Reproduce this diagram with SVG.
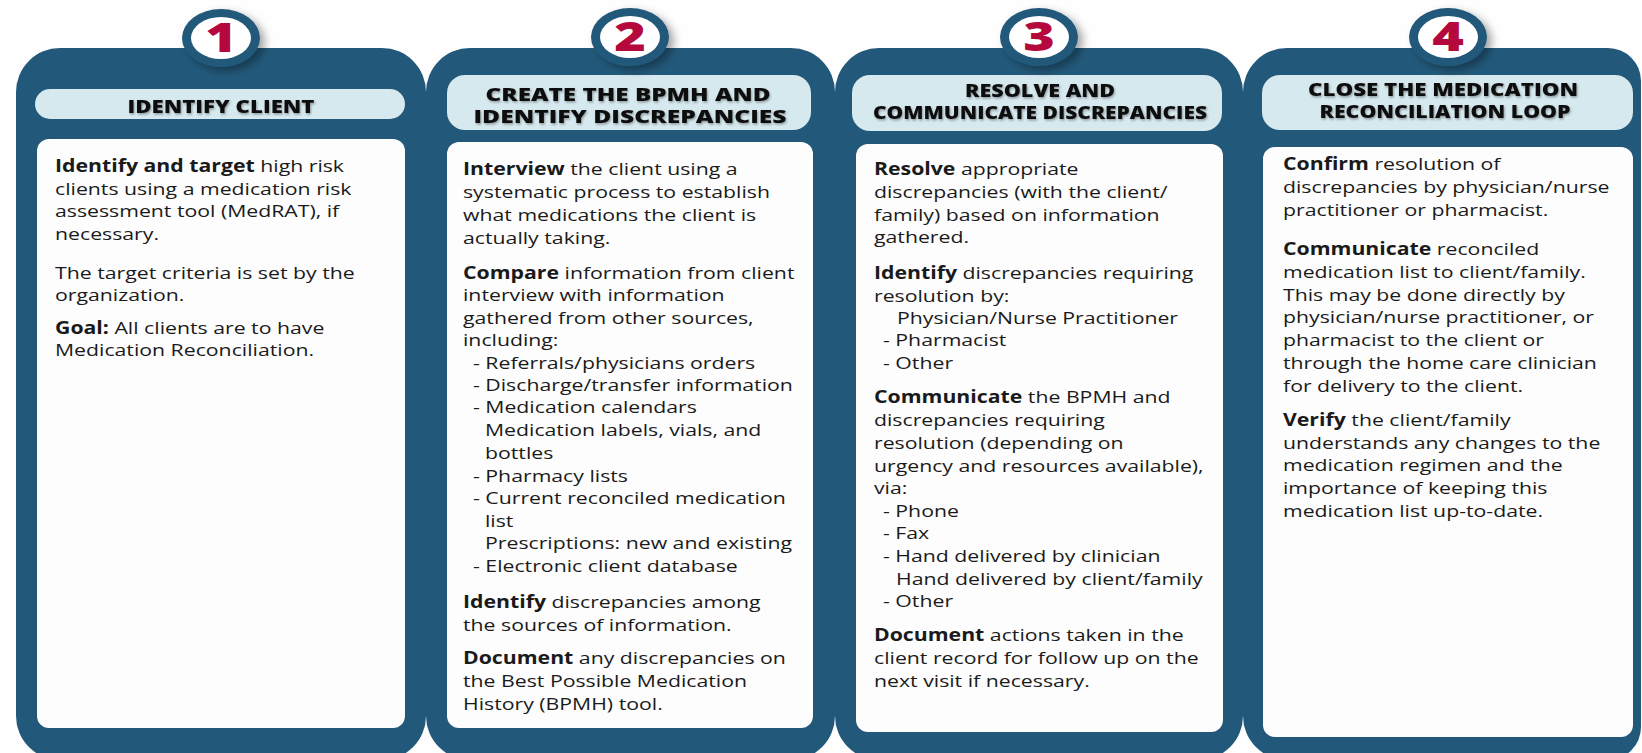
<svg xmlns="http://www.w3.org/2000/svg" width="1642" height="753" viewBox="0 0 1642 753">
<defs>
<style>
.panel{fill:#22597a}
.pill{fill:#d6e9ef}
.box{fill:#fdfdfd}
.ring{fill:#22597a}
.inner{fill:#ffffff}
.num{font-family:"Open Sans","Liberation Sans",sans-serif;font-weight:800;font-size:40px;fill:#b5083d;text-anchor:middle}
.hdr{font-family:"Open Sans","Liberation Sans",sans-serif;font-weight:800;font-size:17px;fill:#111;text-anchor:middle}
.body{font-family:"Open Sans","Liberation Sans",sans-serif;font-size:17px;fill:#1a1a1a}
.b{font-weight:700}
</style>
<filter id="sh" x="-30%" y="-30%" width="170%" height="170%">
<feDropShadow dx="5" dy="4" stdDeviation="4" flood-color="#000" flood-opacity="0.35"/>
</filter>
<filter id="tsh" x="-5%" y="-30%" width="110%" height="170%">
<feDropShadow dx="1" dy="1.5" stdDeviation="1" flood-color="#000" flood-opacity="0.35"/>
</filter>
</defs>
<rect x="0" y="0" width="1642" height="753" fill="#fefefe"/>
<g id="connectors"/>

<g id="step1">
<rect class="panel" x="16" y="48" width="410" height="712" rx="44"/>
<rect class="pill" x="35" y="89" width="370" height="30" rx="15"/>
<rect class="box" x="37" y="139" width="368" height="589" rx="12"/>
<g filter="url(#sh)"><ellipse class="ring" cx="221" cy="38" rx="39" ry="29"/></g>
<ellipse class="inner" cx="221" cy="38" rx="30" ry="21"/>
<text class="num" transform="translate(221 52) scale(1.35 1)" x="0" y="0">1</text>
<text class="hdr" filter="url(#tsh)" x="221" y="113" textLength="187" lengthAdjust="spacingAndGlyphs">IDENTIFY CLIENT</text>
<g transform="translate(55 0) scale(1.25 1)">
<text class="body">
<tspan x="0" y="172"><tspan class="b">Identify and target</tspan> high risk</tspan>
<tspan x="0" y="195">clients using a medication risk</tspan>
<tspan x="0" y="217">assessment  tool (MedRAT), if</tspan>
<tspan x="0" y="240">necessary.</tspan>
<tspan x="0" y="279">The target criteria is set by the</tspan>
<tspan x="0" y="301">organization.</tspan>
<tspan x="0" y="334"><tspan class="b">Goal:</tspan>  All clients are to have</tspan>
<tspan x="0" y="356">Medication Reconciliation.</tspan>
</text>
</g>
</g>

<g id="step2">
<rect class="panel" x="426" y="48" width="409" height="712" rx="44"/>
<rect class="pill" x="447" y="75" width="364" height="55" rx="18"/>
<rect class="box" x="447" y="142" width="366" height="586" rx="12"/>
<g filter="url(#sh)"><ellipse class="ring" cx="630" cy="37" rx="39" ry="29"/></g>
<ellipse class="inner" cx="630" cy="37" rx="30" ry="21"/>
<text class="num" transform="translate(630 51) scale(1.35 1)" x="0" y="0">2</text>
<text class="hdr" filter="url(#tsh)" x="628" y="101" textLength="285" lengthAdjust="spacingAndGlyphs">CREATE THE BPMH AND</text>
<text class="hdr" filter="url(#tsh)" x="630" y="123" textLength="313" lengthAdjust="spacingAndGlyphs">IDENTIFY DISCREPANCIES</text>
<g transform="translate(463 0) scale(1.25 1)">
<text class="body">
<tspan x="0" y="175"><tspan class="b">Interview</tspan> the client using a</tspan>
<tspan x="0" y="198">systematic process to establish</tspan>
<tspan x="0" y="221">what medications the client is</tspan>
<tspan x="0" y="244">actually taking.</tspan>
<tspan x="0" y="279"><tspan class="b">Compare</tspan> information from client</tspan>
<tspan x="0" y="301">interview with information</tspan>
<tspan x="0" y="324">gathered from other sources,</tspan>
<tspan x="0" y="346">including:</tspan>
<tspan x="8" y="369">- Referrals/physicians orders</tspan>
<tspan x="8" y="391">- Discharge/transfer information</tspan>
<tspan x="8" y="413">- Medication calendars</tspan>
<tspan x="17.6" y="436">Medication labels, vials, and</tspan>
<tspan x="17.6" y="459">bottles</tspan>
<tspan x="8" y="482">- Pharmacy lists</tspan>
<tspan x="8" y="504">- Current reconciled medication</tspan>
<tspan x="17.6" y="527">list</tspan>
<tspan x="17.6" y="549">Prescriptions: new and existing</tspan>
<tspan x="8" y="572">- Electronic client database</tspan>
<tspan x="0" y="608"><tspan class="b">Identify</tspan> discrepancies among</tspan>
<tspan x="0" y="631">the sources of information.</tspan>
<tspan x="0" y="664"><tspan class="b">Document</tspan> any discrepancies on</tspan>
<tspan x="0" y="687">the  Best Possible Medication</tspan>
<tspan x="0" y="710">History (BPMH) tool.</tspan>
</text>
</g>
</g>

<g id="step3">
<rect class="panel" x="835" y="48" width="408" height="712" rx="44"/>
<rect class="pill" x="852" y="75" width="370" height="56" rx="18"/>
<rect class="box" x="856" y="144" width="367" height="588" rx="12"/>
<g filter="url(#sh)"><ellipse class="ring" cx="1039" cy="37" rx="39" ry="29"/></g>
<ellipse class="inner" cx="1039" cy="37" rx="30" ry="21"/>
<text class="num" transform="translate(1039 51) scale(1.35 1)" x="0" y="0">3</text>
<text class="hdr" filter="url(#tsh)" x="1040" y="97" textLength="150" lengthAdjust="spacingAndGlyphs">RESOLVE AND</text>
<text class="hdr" filter="url(#tsh)" x="1040" y="119" textLength="334" lengthAdjust="spacingAndGlyphs">COMMUNICATE DISCREPANCIES</text>
<g transform="translate(874 0) scale(1.25 1)">
<text class="body">
<tspan x="0" y="175"><tspan class="b">Resolve</tspan> appropriate</tspan>
<tspan x="0" y="198">discrepancies (with the client/</tspan>
<tspan x="0" y="221">family) based on information</tspan>
<tspan x="0" y="243">gathered.</tspan>
<tspan x="0" y="279"><tspan class="b">Identify</tspan> discrepancies requiring</tspan>
<tspan x="0" y="302">resolution by:</tspan>
<tspan x="18.4" y="324">Physician/Nurse Practitioner</tspan>
<tspan x="7.2" y="346">- Pharmacist</tspan>
<tspan x="7.2" y="369">- Other</tspan>
<tspan x="0" y="403"><tspan class="b">Communicate</tspan> the BPMH and</tspan>
<tspan x="0" y="426">discrepancies requiring</tspan>
<tspan x="0" y="449">resolution (depending on</tspan>
<tspan x="0" y="472">urgency and resources available),</tspan>
<tspan x="0" y="494">via:</tspan>
<tspan x="7.2" y="517">- Phone</tspan>
<tspan x="7.2" y="539">- Fax</tspan>
<tspan x="7.2" y="562">- Hand delivered by clinician</tspan>
<tspan x="17.6" y="585">Hand delivered by client/family</tspan>
<tspan x="7.2" y="607">- Other</tspan>
<tspan x="0" y="641"><tspan class="b">Document</tspan> actions taken in the</tspan>
<tspan x="0" y="664">client record for follow up on the</tspan>
<tspan x="0" y="687">next visit if necessary.</tspan>
</text>
</g>
</g>

<g id="step4">
<path class="panel" d="M1287 48 H1608 A33 33 0 0 1 1641 81 V727 A33 33 0 0 1 1608 760 H1287 A44 44 0 0 1 1243 716 V92 A44 44 0 0 1 1287 48 Z"/>
<rect class="pill" x="1262" y="75" width="371" height="55" rx="18"/>
<rect class="box" x="1263" y="147" width="370" height="590" rx="12"/>
<g filter="url(#sh)"><ellipse class="ring" cx="1448" cy="37" rx="39" ry="29"/></g>
<ellipse class="inner" cx="1448" cy="37" rx="30" ry="21"/>
<text class="num" transform="translate(1448 51) scale(1.35 1)" x="0" y="0">4</text>
<text class="hdr" filter="url(#tsh)" x="1443" y="96" textLength="270" lengthAdjust="spacingAndGlyphs">CLOSE THE MEDICATION</text>
<text class="hdr" filter="url(#tsh)" x="1445" y="118" textLength="251" lengthAdjust="spacingAndGlyphs">RECONCILIATION LOOP</text>
<g transform="translate(1283 0) scale(1.25 1)">
<text class="body">
<tspan x="0" y="170"><tspan class="b">Confirm</tspan> resolution of</tspan>
<tspan x="0" y="193">discrepancies by physician/nurse</tspan>
<tspan x="0" y="216">practitioner or pharmacist.</tspan>
<tspan x="0" y="255"><tspan class="b">Communicate</tspan> reconciled</tspan>
<tspan x="0" y="278">medication list to client/family.</tspan>
<tspan x="0" y="301">This may be  done directly by</tspan>
<tspan x="0" y="323">physician/nurse practitioner, or</tspan>
<tspan x="0" y="346">pharmacist to the client or</tspan>
<tspan x="0" y="369">through the home care clinician</tspan>
<tspan x="0" y="392">for delivery to the client.</tspan>
<tspan x="0" y="426"><tspan class="b">Verify</tspan> the client/family</tspan>
<tspan x="0" y="449">understands any changes to the</tspan>
<tspan x="0" y="471">medication regimen and the</tspan>
<tspan x="0" y="494">importance of keeping this</tspan>
<tspan x="0" y="517">medication list up-to-date.</tspan>
</text>
</g>
</g>
</svg>
